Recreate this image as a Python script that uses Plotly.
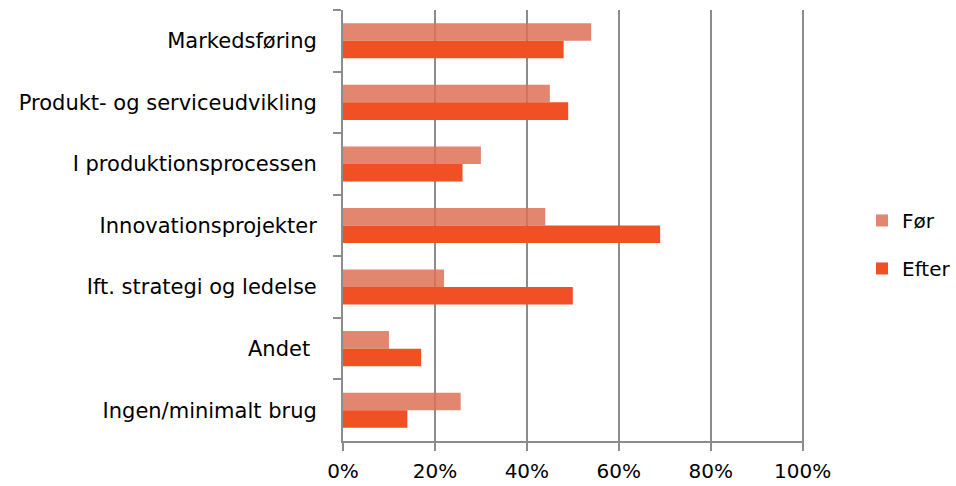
import plotly.graph_objects as go

categories = [
    "Markedsføring",
    "Produkt- og serviceudvikling",
    "I produktionsprocessen",
    "Innovationsprojekter",
    "Ift. strategi og ledelse",
    "Andet ",
    "Ingen/minimalt brug",
]
foer = [54, 45, 30, 44, 22, 10, 25.6]
efter = [48, 49, 26, 69, 50, 17, 14]
x_ticks = [0, 20, 40, 60, 80, 100]
x_tick_labels = ["0%", "20%", "40%", "60%", "80%", "100%"]

FONT = "DejaVu Sans"
GRID = "#8c8c8c"

fig = go.Figure()
fig.add_trace(go.Bar(
    name="Før", y=categories, x=foer, orientation="h",
    marker=dict(color="#DD7256", line=dict(width=0)), opacity=0.85,
    legendgroup="a",
))
fig.add_trace(go.Bar(
    name="Efter", y=categories, x=efter, orientation="h",
    marker=dict(color="#F05023", line=dict(width=0)),
    legendgroup="b",
))

fig.update_layout(
    width=956, height=486,
    margin=dict(l=343, r=152, t=10, b=45, autoexpand=False),
    paper_bgcolor="white", plot_bgcolor="white",
    barmode="group", bargap=0.43, bargroupgap=0,
    font=dict(family=FONT, size=20, color="#000"),
    legend=dict(
        xref="container", yref="container",
        x=0.9017, y=0.497, xanchor="left", yanchor="middle",
        font=dict(family=FONT, size=20, color="#000"),
        tracegroupgap=19, itemwidth=30,
    ),
    xaxis=dict(
        # small headroom past 100 so the 100% gridline is drawn
        range=[0, 100.3], tickvals=x_ticks, ticktext=x_tick_labels,
        showgrid=True, gridcolor=GRID, gridwidth=2,
        showline=True, linecolor=GRID, linewidth=2,
        ticks="outside", ticklen=8, tickwidth=2, tickcolor=GRID,
        ticklabelstandoff=3, zeroline=False, fixedrange=True,
        automargin=False,
    ),
    yaxis=dict(
        autorange="reversed", categoryorder="array", categoryarray=categories,
        showgrid=False, showline=True, linecolor=GRID, linewidth=2,
        ticks="outside", ticklen=8, tickwidth=2, tickcolor=GRID,
        tickson="boundaries", ticklabelstandoff=20, fixedrange=True,
        tickfont=dict(family=FONT, size=21, color="#000"),
        automargin=False,
    ),
)

fig.write_html("out.html")
